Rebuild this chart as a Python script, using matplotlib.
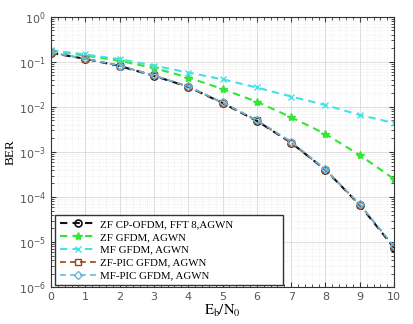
import matplotlib.pyplot as plt
from matplotlib.ticker import AutoMinorLocator, NullFormatter

snr = [0, 1, 2, 3, 4, 5, 6, 7, 8, 9, 10]
ber_ofdm = [0.158, 0.117, 0.081, 0.049, 0.028, 0.0122, 0.0049, 0.0016, 4.0e-4, 6.6e-5, 7.4e-6]
ber_zf = [0.175, 0.138, 0.106, 0.073, 0.045, 0.025, 0.013, 0.0059, 0.0025, 8.5e-4, 2.5e-4]
ber_mf = [0.182, 0.146, 0.115, 0.083, 0.058, 0.041, 0.027, 0.017, 0.011, 0.0066, 0.0044]
ber_zfpic = [0.16, 0.118, 0.082, 0.050, 0.028, 0.0124, 0.0050, 0.0016, 4.0e-4, 6.8e-5, 7.8e-6]
ber_mfpic = [0.162, 0.119, 0.083, 0.050, 0.029, 0.0126, 0.0051, 0.0017, 4.1e-4, 6.9e-5, 8.0e-6]

labels = ['ZF CP-OFDM, FFT 8,AGWN', 'ZF GFDM, AGWN', 'MF GFDM, AGWN',
          'ZF-PIC GFDM, AGWN', 'MF-PIC GFDM, AGWN']

plt.rcParams['mathtext.fontset'] = 'stix'

fig = plt.figure(figsize=(4.14, 3.24), dpi=100)
ax = fig.add_axes([0.123, 0.114, 0.829, 0.834])

dash = (0, (3.5, 2.5))
ax.semilogy(snr, ber_ofdm, marker='o', ls=dash, color='#111111', mfc='none', lw=1.5, ms=5, mew=1.2, label=labels[0])
ax.semilogy(snr, ber_zf, marker='*', ls=dash, color='#33e633', lw=1.5, ms=6, label=labels[1])
ax.semilogy(snr, ber_mf, marker='x', ls=dash, color='#44e0e6', lw=1.5, ms=5, label=labels[2])
ax.semilogy(snr, ber_zfpic, marker='s', ls=dash, color='#9a4418', mfc='none', lw=1.2, ms=4.5, label=labels[3])
ax.semilogy(snr, ber_mfpic, marker='D', ls=dash, color='#66b8e0', mfc='none', lw=1.2, ms=4, label=labels[4])

ax.set_xlim(0, 10)
ax.set_ylim(1e-6, 1)
ax.set_xticks(range(11))
ax.grid(True, which='major', color='#d8d8d8', lw=0.6)
ax.grid(True, which='minor', color='#e6e6e6', lw=0.5, ls=':')
ax.minorticks_on()
ax.xaxis.set_minor_locator(AutoMinorLocator(5))
ax.xaxis.set_minor_formatter(NullFormatter())
ax.yaxis.set_minor_formatter(NullFormatter())
ax.tick_params(which='both', direction='in', top=True, right=True, labelsize=8,
               colors='#333333', labelcolor='#555555')
ax.tick_params(which='minor', length=2)
for s in ax.spines.values():
    s.set_color('#333333')

ax.set_xlabel(r'$\mathrm{E_b/N_0}$', fontsize=10.5, labelpad=1)
ax.set_ylabel('BER', fontsize=9.5, family='Liberation Serif')
ax.yaxis.set_label_coords(-0.1, 0.5)

leg = ax.legend(loc='lower left', bbox_to_anchor=(0.012, 0.007, 0.665, 0.26), mode='expand',
                prop={'family': 'Liberation Serif', 'size': 7.8},
                fancybox=False, edgecolor='#333333', framealpha=1,
                borderaxespad=0, handlelength=3.3, labelspacing=0.3, handletextpad=0.4,
                borderpad=0.45)
leg.get_frame().set_linewidth(1.0)

fig.savefig('out.png', dpi=100)
